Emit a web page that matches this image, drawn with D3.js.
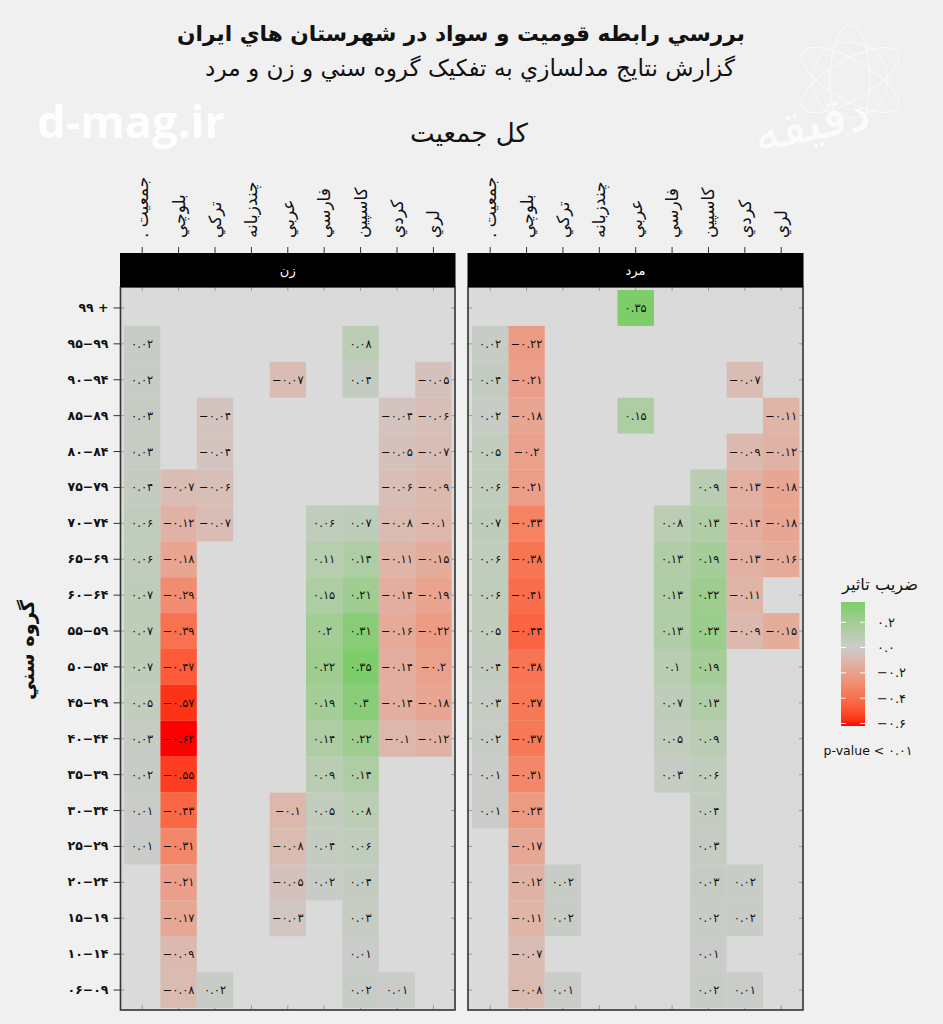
<!DOCTYPE html>
<html><head><meta charset="utf-8">
<script src="https://cdn.jsdelivr.net/npm/d3@7"></script>
<style>
html,body{margin:0;padding:0;background:#f0f0f0;}
svg{display:block;font-family:"DejaVu Sans","Noto Sans",sans-serif;}
</style></head>
<body>
<svg id="chart" width="943" height="1024"></svg>
<script>
// ---------------- DATA ----------------
const ageGroups = ["۹۹ +","۹۵−۹۹","۹۰−۹۴","۸۵−۸۹","۸۰−۸۴","۷۵−۷۹","۷۰−۷۴","۶۵−۶۹","۶۰−۶۴","۵۵−۵۹",
  "۵۰−۵۴","۴۵−۴۹","۴۰−۴۴","۳۵−۳۹","۳۰−۳۴","۲۵−۲۹","۲۰−۲۴","۱۵−۱۹","۱۰−۱۴","۰۶−۰۹"];
const ethnicities = ["جمعيت","بلوچي","ترکي","چندزبانه","عربي","فارسي","کاسپين","کردي","لري"];
const ethnicityLabels = [". جمعيت","بلوچي","ترکي","چندزبانه","عربي","فارسي","کاسپين","کردي","لري"];
const panelNames = ["زن","مرد"];
// rows = age groups (top to bottom), columns = ethnicities; null = not significant
const womenValues = [
  [null,null,null,null,null,null,null,null,null],
  [0.02,null,null,null,null,null,0.08,null,null],
  [0.02,null,null,null,-0.07,null,0.04,null,-0.05],
  [0.03,null,-0.04,null,null,null,null,-0.04,-0.06],
  [0.03,null,-0.04,null,null,null,null,-0.05,-0.07],
  [0.04,-0.07,-0.06,null,null,null,null,-0.06,-0.09],
  [0.06,-0.12,-0.07,null,null,0.06,0.07,-0.08,-0.1],
  [0.06,-0.18,null,null,null,0.11,0.14,-0.11,-0.15],
  [0.07,-0.29,null,null,null,0.15,0.21,-0.14,-0.19],
  [0.07,-0.39,null,null,null,0.2,0.31,-0.16,-0.22],
  [0.07,-0.47,null,null,null,0.22,0.35,-0.14,-0.2],
  [0.05,-0.57,null,null,null,0.19,0.3,-0.14,-0.18],
  [0.03,-0.62,null,null,null,0.14,0.22,-0.1,-0.12],
  [0.02,-0.55,null,null,null,0.09,0.14,null,null],
  [0.01,-0.43,null,null,-0.1,0.05,0.08,null,null],
  [0.01,-0.31,null,null,-0.08,0.04,0.06,null,null],
  [null,-0.21,null,null,-0.05,0.02,0.04,null,null],
  [null,-0.17,null,null,-0.03,null,0.03,null,null],
  [null,-0.09,null,null,null,null,0.01,null,null],
  [null,-0.08,0.02,null,null,null,0.02,0.01,null]
];
const menValues = [
  [null,null,null,null,0.35,null,null,null,null],
  [0.02,-0.22,null,null,null,null,null,null,null],
  [0.04,-0.21,null,null,null,null,null,-0.07,null],
  [0.02,-0.18,null,null,0.15,null,null,null,-0.11],
  [0.05,-0.2,null,null,null,null,null,-0.09,-0.12],
  [0.06,-0.21,null,null,null,null,0.09,-0.13,-0.18],
  [0.07,-0.33,null,null,null,0.08,0.13,-0.14,-0.18],
  [0.06,-0.38,null,null,null,0.13,0.19,-0.13,-0.16],
  [0.06,-0.41,null,null,null,0.13,0.22,-0.11,null],
  [0.05,-0.44,null,null,null,0.13,0.23,-0.09,-0.15],
  [0.04,-0.38,null,null,null,0.1,0.19,null,null],
  [0.03,-0.37,null,null,null,0.07,0.13,null,null],
  [0.02,-0.37,null,null,null,0.05,0.09,null,null],
  [0.01,-0.31,null,null,null,0.03,0.06,null,null],
  [0.01,-0.23,null,null,null,null,0.04,null,null],
  [null,-0.17,null,null,null,null,0.03,null,null],
  [null,-0.12,0.02,null,null,null,0.03,0.02,null],
  [null,-0.11,0.02,null,null,null,0.02,0.02,null],
  [null,-0.07,null,null,null,null,0.01,null,null],
  [null,-0.08,0.01,null,null,null,0.02,0.01,null]
];
const legendTicks = [0.2, 0, -0.2, -0.4, -0.6];
const colorStops = [-0.62, 0, 0.35];
const titleText = "بررسي رابطه قوميت و سواد در شهرستان هاي ايران";
const subtitleText = "گزارش نتايج مدلسازي به تفکيک گروه سني و زن و مرد";
const captionText = "کل جمعيت";
const yTitle = "گروه سني";
const legendTitle = "ضريب تاثير";
const noteText = "p-value < ۰.۰۱";

// ---------------- HELPERS ----------------
const faDigits = "۰۱۲۳۴۵۶۷۸۹";
const fa = s => String(s).replace(/\d/g, d => faDigits[+d]);
const fmtVal = v => (v < 0 ? "−" : "") + fa(String(Math.abs(v)));
const fmtTick = v => (v < 0 ? "−" : "") + fa(d3.format(".1f")(Math.abs(v)));
function fit(sel, w){
  const n = sel.node(); const cur = n.getComputedTextLength();
  const fs = parseFloat(sel.attr("font-size"));
  if (cur > 0) sel.attr("font-size", (fs * w / cur).toFixed(2));
  return sel;
}

const svg = d3.select("#chart");
svg.append("rect").attr("width",943).attr("height",1024).attr("fill","#f0f0f0");

// ---------------- WATERMARKS ----------------
fit(svg.append("text").attr("x",37).attr("y",138).attr("font-family","Open Sans")
  .attr("font-weight","bold").attr("font-size",46).attr("fill","#ffffff").attr("opacity",0.95)
  .text("d-mag.ir"), 188);
const logo = svg.append("g").attr("opacity",0.75);
[[-30],[30],[90]].forEach(([a]) => {
  logo.append("ellipse").attr("cx",850).attr("cy",80).attr("rx",55).attr("ry",20)
    .attr("transform",`rotate(${a},850,80)`).attr("fill","none").attr("stroke","#ffffff").attr("stroke-width",1);
});
logo.append("circle").attr("cx",850).attr("cy",80).attr("r",38).attr("fill","none").attr("stroke","#ffffff").attr("stroke-width",0.8);
logo.append("text").attr("x",815).attr("y",140).attr("text-anchor","middle").attr("font-size",52)
  .attr("fill","#ffffff").attr("transform","rotate(-12,815,140)").text("دقيقه");

// ---------------- TITLES ----------------
fit(svg.append("text").attr("x",461).attr("y",41).attr("text-anchor","middle").attr("font-size",26)
  .attr("font-weight","bold").attr("fill","#111").text(titleText), 568);
fit(svg.append("text").attr("x",470).attr("y",76).attr("text-anchor","middle").attr("font-size",20)
  .attr("fill","#111").text(subtitleText), 530);
fit(svg.append("text").attr("x",469).attr("y",142).attr("text-anchor","middle").attr("font-size",20)
  .attr("fill","#111").text(captionText), 118);

// ---------------- SCALES ----------------
const panelsGeom = [
  {name: panelNames[0], data: womenValues, px0: 120.5, px1: 455, bx0: 124, bx1: 451.6},
  {name: panelNames[1], data: menValues,   px0: 468,   px1: 803, bx0: 472, bx1: 799.4}
];
const py0 = 287, py1 = 1010, stripTop = 253;
const y = d3.scaleBand().domain(ageGroups).range([290, 1008]);
const color = d3.scaleLinear().domain(colorStops).range(["#ff0000","#cccccc","#7dcd6a"]).interpolate(d3.interpolateLab);

panelsGeom.forEach((p, pi) => {
  const x = d3.scaleBand().domain(ethnicities).range([p.bx0, p.bx1]);
  const g = svg.append("g");
  g.append("rect").attr("x",p.px0).attr("y",py0).attr("width",p.px1-p.px0).attr("height",py1-py0)
    .attr("fill","#dadada");
  ethnicities.forEach(e => {
    const cx = x(e) + x.bandwidth()/2;
    g.append("line").attr("x1",cx).attr("x2",cx).attr("y1",py1-5).attr("y2",py1).attr("stroke","#9a9a9a");
    g.append("line").attr("x1",cx).attr("x2",cx).attr("y1",py0).attr("y2",py0+4).attr("stroke","#9a9a9a");
  });
  ageGroups.forEach(a => {
    const cy = y(a) + y.bandwidth()/2;
    g.append("line").attr("x1",p.px0).attr("x2",p.px0+4).attr("y1",cy).attr("y2",cy).attr("stroke","#9a9a9a");
    g.append("line").attr("x1",p.px1-4).attr("x2",p.px1).attr("y1",cy).attr("y2",cy).attr("stroke","#9a9a9a");
  });
  const cells = [];
  p.data.forEach((row, ri) => row.forEach((v, ci) => {
    if (v !== null) cells.push({age: ageGroups[ri], eth: ethnicities[ci], v});
  }));
  g.selectAll("rect.cell").data(cells).join("rect").attr("class","cell")
    .attr("x", d => x(d.eth)).attr("y", d => y(d.age))
    .attr("width", x.bandwidth()).attr("height", y.bandwidth())
    .attr("fill", d => color(d.v));
  g.selectAll("text.val").data(cells).join("text").attr("class","val")
    .attr("x", d => x(d.eth) + x.bandwidth()/2).attr("y", d => y(d.age) + y.bandwidth()/2)
    .attr("dy","0.35em").attr("text-anchor","middle").attr("font-size",11.5).attr("fill","#111")
    .text(d => fmtVal(d.v));
  g.append("rect").attr("x",p.px0).attr("y",py0).attr("width",p.px1-p.px0).attr("height",py1-py0)
    .attr("fill","none").attr("stroke","#333").attr("stroke-width",1.6);
  g.append("rect").attr("x",p.px0-0.5).attr("y",stripTop).attr("width",p.px1-p.px0+1).attr("height",py0-stripTop)
    .attr("fill","#000");
  g.append("text").attr("x",(p.px0+p.px1)/2).attr("y",(stripTop+py0)/2).attr("dy","0.35em")
    .attr("text-anchor","middle").attr("font-size",13).attr("fill","#fff").text(p.name);
  const ax = g.append("g").attr("transform",`translate(0,${stripTop})`)
    .call(d3.axisTop(x).tickSize(6).tickFormat((d,i) => ethnicityLabels[i]));
  ax.select(".domain").remove();
  ax.selectAll(".tick line").attr("stroke","#333");
  ax.selectAll(".tick text").attr("y",0).attr("x",0).attr("dy","0.35em")
    .attr("transform","translate(0,-15) rotate(-90)").attr("text-anchor","start")
    .attr("font-size",17).attr("fill","#111").attr("font-family","DejaVu Sans");
  if (pi === 0) {
    const ay = g.append("g").attr("transform",`translate(${p.px0},0)`)
      .call(d3.axisLeft(y).tickSize(7).tickPadding(5));
    ay.select(".domain").remove();
    ay.selectAll(".tick line").attr("stroke","#333");
    ay.selectAll(".tick text").attr("font-size",12.5).attr("font-weight","bold").attr("fill","#111")
      .attr("font-family","DejaVu Sans");
  }
});

// y title
fit(svg.append("text").attr("transform","translate(34,650) rotate(-90)").attr("text-anchor","middle")
  .attr("font-size",20).attr("font-weight","bold").attr("fill","#111").text(yTitle), 100);

// ---------------- LEGEND ----------------
const lx = 841, lw = 24;
const ly = d3.scaleLinear().domain([-0.62, 0.36]).range([726, 602]);
const defs = svg.append("defs");
const grad = defs.append("linearGradient").attr("id","lg").attr("x1",0).attr("x2",0).attr("y1",1).attr("y2",0);
d3.range(0, 1.0001, 0.05).forEach(t => {
  const v = -0.62 + t * (0.36 + 0.62);
  grad.append("stop").attr("offset", t).attr("stop-color", color(Math.min(v, 0.35)));
});
svg.append("rect").attr("x",lx).attr("y",ly(0.36)).attr("width",lw).attr("height",ly(-0.62)-ly(0.36))
  .attr("fill","url(#lg)");
legendTicks.forEach(t => {
  svg.append("line").attr("x1",lx).attr("x2",lx+5).attr("y1",ly(t)).attr("y2",ly(t)).attr("stroke","#fff").attr("stroke-width",1);
  svg.append("line").attr("x1",lx+lw-5).attr("x2",lx+lw).attr("y1",ly(t)).attr("y2",ly(t)).attr("stroke","#fff").attr("stroke-width",1);
  svg.append("text").attr("x",877).attr("y",ly(t)).attr("dy","0.35em").attr("font-size",13).attr("fill","#111")
    .text(fmtTick(t));
});
fit(svg.append("text").attr("x",880).attr("y",590).attr("text-anchor","middle").attr("font-size",16)
  .attr("fill","#111").text(legendTitle), 76);
svg.append("text").attr("x",868).attr("y",755).attr("text-anchor","middle").attr("font-size",12.5)
  .attr("fill","#111").text(noteText);
</script>
</body></html>
